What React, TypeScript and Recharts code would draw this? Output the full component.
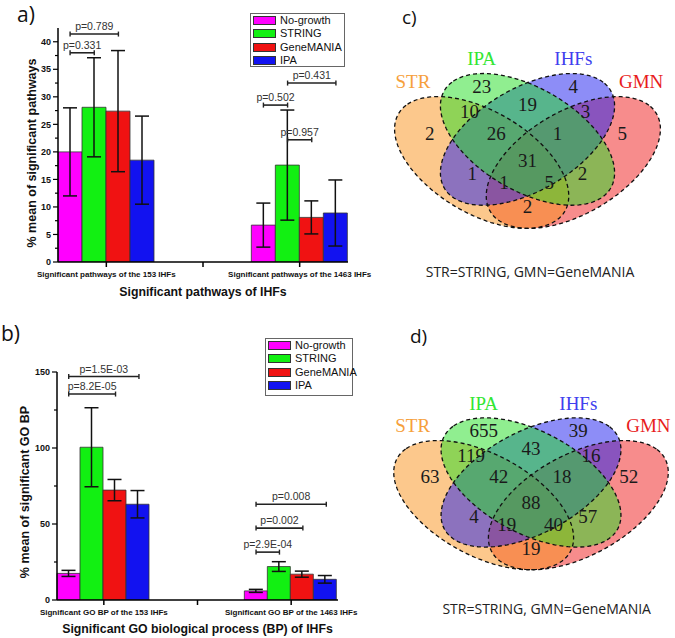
import React from 'react';
import {
  BarChart, Bar, XAxis, YAxis, ErrorBar, Legend, ReferenceLine,
  ScatterChart, Scatter,
} from 'recharts';

const SANS = '"Liberation Sans", Arial, sans-serif';
const SERIF = '"Liberation Serif", "Times New Roman", serif';
const LABEL_FONT = '"Open Sans", "Noto Sans", sans-serif';

const SERIES = ['No-growth', 'STRING', 'GeneMANIA', 'IPA'];
const SERIES_COLORS = ['#ff00ff', '#12f012', '#f01212', '#1212f0'];

// a) % mean of significant pathways (middle slot is an empty spacer category)
const CATS_A = ['Significant pathways of the 153 IHFs', ' ', 'Significant pathways of the 1463 IHFs'];
const NOGROWTH_A = [20.0, null, 6.7];
const STRING_A = [28.1, null, 17.6];
const GENEMANIA_A = [27.4, null, 8.1];
const IPA_A = [18.5, null, 8.9];
const NOGROWTH_ERR_A = [8, null, 4];
const STRING_ERR_A = [9, null, 10];
const GENEMANIA_ERR_A = [11, null, 3];
const IPA_ERR_A = [8, null, 6];
const Y_TICKS_A = [0, 2.5, 5, 7.5, 10, 12.5, 15, 17.5, 20, 22.5, 25, 27.5, 30, 32.5, 35, 37.5, 40];
const PVALS_A = [
  { cat: 0, from: 0, to: 2, y: 41.4, label: 'p=0.789' },
  { cat: 0, from: 0, to: 1, y: 38.0, label: 'p=0.331' },
  { cat: 2, from: 1, to: 3, y: 32.5, label: 'p=0.431' },
  { cat: 2, from: 0, to: 1, y: 28.5, label: 'p=0.502' },
  { cat: 2, from: 1, to: 2, y: 22.2, label: 'p=0.957' },
];

// b) % mean of significant GO BP
const CATS_B = ['Significant GO BP of the 153 IHFs', ' ', 'Significant GO BP of the 1463 IHFs'];
const NOGROWTH_B = [17.5, null, 6.0];
const STRING_B = [100.5, null, 22.0];
const GENEMANIA_B = [72.3, null, 17.0];
const IPA_B = [63.0, null, 13.6];
const NOGROWTH_ERR_B = [2, null, 1];
const STRING_ERR_B = [26, null, 3.2];
const GENEMANIA_ERR_B = [7, null, 2];
const IPA_ERR_B = [9, null, 2.5];
const Y_TICKS_B = [0, 25, 50, 75, 100, 125, 150];
const PVALS_B = [
  { cat: 0, from: 0, to: 3, y: 147, label: 'p=1.5E-03' },
  { cat: 0, from: 0, to: 2, y: 135.5, label: 'p=8.2E-05' },
  { cat: 2, from: 0, to: 3, y: 63, label: 'p=0.008' },
  { cat: 2, from: 0, to: 2, y: 47.3, label: 'p=0.002' },
  { cat: 2, from: 0, to: 1, y: 31.5, label: 'p=2.9E-04' },
];

// c), d) Venn region counts
const VENN_SETS = ['STR', 'IPA', 'IHFs', 'GMN'];
const VENN_SET_COLORS = ['#f99119', '#22dd22', '#1c1cf0', '#f01a1a'];
const VENN_TEXT_COLORS = ['#f6a03c', '#33e633', '#4040ee', '#e81c1c'];
const VENN_REGIONS = [
  'STR', 'IPA', 'IHFs', 'GMN', 'STR&IPA', 'IPA&IHFs', 'IHFs&GMN', 'STR&IPA&IHFs',
  'IPA&IHFs&GMN', 'ALL', 'STR&IHFs', 'IPA&GMN', 'STR&IHFs&GMN', 'STR&IPA&GMN', 'STR&GMN',
];
const COUNTS_C = [2, 23, 4, 5, 10, 19, 3, 26, 1, 31, 1, 2, 1, 5, 2];
const COUNTS_D = [63, 655, 39, 52, 119, 43, 16, 42, 18, 88, 4, 57, 19, 40, 19];

// venn geometry (unit square, y up)
const ELL_A = 0.35;
const ELL_B = 0.2;
const ELLIPSES: Record<string, { x: number; y: number; rot: number }> = {
  STR: { x: 0.35, y: 0.47, rot: 135 },
  IPA: { x: 0.5, y: 0.57, rot: 135 },
  IHFs: { x: 0.5, y: 0.57, rot: 45 },
  GMN: { x: 0.65, y: 0.47, rot: 45 },
};
const DRAW_ORDER = ['GMN', 'STR', 'IHFs', 'IPA'];
const REGION_POS: Record<string, [number, number]> = {
  STR: [0.18, 0.597], IPA: [0.35, 0.8], IHFs: [0.65, 0.8], GMN: [0.81, 0.597],
  'STR&IPA': [0.31, 0.69], 'IPA&IHFs': [0.5, 0.72], 'IHFs&GMN': [0.69, 0.69],
  'STR&IPA&IHFs': [0.398, 0.596], 'IPA&IHFs&GMN': [0.598, 0.596], ALL: [0.5, 0.48],
  'STR&IHFs': [0.319, 0.422], 'IPA&GMN': [0.68, 0.422],
  'STR&IHFs&GMN': [0.423, 0.383], 'STR&IPA&GMN': [0.571, 0.383], 'STR&GMN': [0.5, 0.278],
};
const SET_LABEL_POS: Record<string, [number, number]> = {
  STR: [0.125, 0.82], IPA: [0.35, 0.92], IHFs: [0.65, 0.92], GMN: [0.872, 0.82],
};
const VX: [number, number] = [0.05, 0.95];
const VY: [number, number] = [0.1, 1.0];

const Y_AXIS_W = 30;

const catTick = (props: any) => {
  const { x, y, payload } = props;
  const v = String(payload.value).trim();
  if (!v) return <g />;
  return (
    <text x={x} y={y + 7.5} textAnchor="middle" fontSize={8} fontWeight="bold" fontFamily={SANS} fill="#111">
      {v}
    </text>
  );
};

const yTick = (major: number) => (props: any) => {
  const { x, y, payload } = props;
  const isMajor = payload.value % major === 0;
  return (
    <g>
      <line x1={x - (isMajor ? 5 : 3)} x2={x} y1={y} y2={y} stroke="#000" strokeWidth={1.2} />
      {isMajor && (
        <text x={x - 7} y={y} dy="0.35em" textAnchor="end" fontSize={9} fontWeight="bold" fontFamily={SANS} fill="#111">
          {payload.value}
        </text>
      )}
    </g>
  );
};

// bracket between two bars of one category; x1 arrives at the band centre
const bracketShape = (label: string, off1: number, off2: number) => (props: any) => {
  const { x1: xc, y1 } = props;
  const x1 = xc + off1;
  const x2 = xc + off2;
  return (
    <g>
      <line x1={x1} x2={x2} y1={y1} y2={y1} stroke="#222" strokeWidth={1.6} />
      <line x1={x1} x2={x1} y1={y1 - 2.5} y2={y1 + 2.5} stroke="#222" strokeWidth={1.4} />
      <line x1={x2} x2={x2} y1={y1 - 2.5} y2={y1 + 2.5} stroke="#222" strokeWidth={1.4} />
      <text x={(x1 + x2) / 2} y={y1 - 4} textAnchor="middle" fontSize={10.5} fontFamily={SANS} fill="#333">
        {label}
      </text>
    </g>
  );
};

const legendContent = (w: number, h: number) => (props: any) => {
  const items = [...(props.payload || [])].sort(
    (a: any, b: any) => SERIES.indexOf(a.value) - SERIES.indexOf(b.value),
  );
  return (
    <div
      style={{
        width: w, height: h, border: '1px solid #666', background: '#fff',
        boxSizing: 'border-box', padding: '0 0 0 2px',
      }}
    >
      {items.map((item: any) => (
        <div
          key={item.value}
          style={{
            display: 'flex', alignItems: 'center', height: 13.3,
            fontSize: 11, fontFamily: SANS, color: '#111', lineHeight: 1,
          }}
        >
          <span
            style={{
              width: 23, height: 9, background: item.color, border: '1px solid #333',
              boxSizing: 'border-box', marginRight: 4, flexShrink: 0,
            }}
          />
          {item.value}
        </div>
      ))}
    </div>
  );
};

type Bracket = { cat: number; from: number; to: number; y: number; label: string };

function BarPanel(props: {
  cats: string[]; means: (number | null)[][]; errs: (number | null)[][];
  yMax: number; yTicks: number[]; major: number; brackets: Bracket[];
  width: number; height: number; margin: any; legend: { left: number; top: number; w: number; h: number };
}) {
  const { cats, means, errs, yMax, yTicks, major, brackets, width, height, margin, legend } = props;
  const rows = cats.map((cat, i) => {
    const row: Record<string, any> = { cat };
    means.forEach((m, s) => {
      row[`m${s}`] = m[i];
      row[`e${s}`] = errs[s][i];
    });
    return row;
  });
  // offset of a bar centre from its band centre (bars fill the band, no gaps)
  const band = (width - margin.left - margin.right - Y_AXIS_W) / cats.length;
  const barOffset = (s: number) => ((s + 0.5) / SERIES.length - 0.5) * band;
  return (
    <BarChart width={width} height={height} data={rows} margin={margin} barCategoryGap={0} barGap={0}>
      <XAxis
        dataKey="cat" height={38} interval={0}
        axisLine={{ stroke: '#000', strokeWidth: 1.5 }}
        tickLine={{ stroke: '#000', strokeWidth: 1.5 }}
        tickSize={5} tickMargin={2} tick={catTick}
      />
      <YAxis
        width={Y_AXIS_W} domain={[0, yMax]} ticks={yTicks} interval={0} allowDataOverflow
        axisLine={{ stroke: '#000', strokeWidth: 1.5 }} tickLine={false}
        tickSize={0} tickMargin={0} tick={yTick(major)}
      />
      <Legend
        layout="horizontal" verticalAlign="middle" align="center"
        wrapperStyle={{ left: legend.left, top: legend.top, width: legend.w }}
        content={legendContent(legend.w, legend.h)}
      />
      {SERIES.map((name, s) => (
        <Bar
          key={name} dataKey={`m${s}`} name={name} fill={SERIES_COLORS[s]}
          stroke="#333" strokeWidth={0.8} isAnimationActive={false}
        >
          <ErrorBar dataKey={`e${s}`} width={7} stroke="#111" strokeWidth={1.5} direction="y" />
        </Bar>
      ))}
      {brackets.map((b) => (
        <ReferenceLine
          key={b.label} ifOverflow="visible"
          segment={[{ x: cats[b.cat], y: b.y }, { x: cats[b.cat], y: b.y }]}
          shape={bracketShape(b.label, barOffset(b.from), barOffset(b.to))}
        />
      ))}
    </BarChart>
  );
}

function VennPanel({ counts, width, height }: { counts: number[]; width: number; height: number }) {
  const sx = width / (VX[1] - VX[0]);
  const sy = height / (VY[1] - VY[0]);
  const ellipses = DRAW_ORDER.map((k) => ({
    ...ELLIPSES[k], name: k, color: VENN_SET_COLORS[VENN_SETS.indexOf(k)],
  }));
  const regions = VENN_REGIONS.map((r, i) => ({ x: REGION_POS[r][0], y: REGION_POS[r][1], count: counts[i] }));
  const setLabels = VENN_SETS.map((s, i) => ({
    x: SET_LABEL_POS[s][0], y: SET_LABEL_POS[s][1], name: s, color: VENN_TEXT_COLORS[i],
  }));

  const ellipsePath = (cx: number, cy: number, rotDeg: number) => {
    const r = (rotDeg * Math.PI) / 180;
    const pts: string[] = [];
    for (let k = 0; k <= 120; k++) {
      const t = (k / 120) * 2 * Math.PI;
      const ux = ELL_A * Math.cos(t) * Math.cos(r) - ELL_B * Math.sin(t) * Math.sin(r);
      const uy = ELL_A * Math.cos(t) * Math.sin(r) + ELL_B * Math.sin(t) * Math.cos(r);
      pts.push(`${(cx + ux * sx).toFixed(2)},${(cy - uy * sy).toFixed(2)}`);
    }
    return `M${pts.join('L')}Z`;
  };
  const fillShape = (p: any) => (
    <path d={ellipsePath(p.cx, p.cy, p.payload.rot)} fill={p.payload.color} fillOpacity={0.5} stroke="none" />
  );
  const outlineShape = (p: any) => (
    <path d={ellipsePath(p.cx, p.cy, p.payload.rot)} fill="none" stroke="#111" strokeWidth={1.3} strokeDasharray="4 3" />
  );
  const countShape = (p: any) => (
    <text x={p.cx} y={p.cy} textAnchor="middle" dominantBaseline="central" fontSize={19} fontFamily={SERIF} fill="#1a1a1a">
      {p.payload.count}
    </text>
  );
  const setShape = (p: any) => (
    <text x={p.cx} y={p.cy} textAnchor="middle" dominantBaseline="central" fontSize={19} fontFamily={SERIF} fill={p.payload.color}>
      {p.payload.name}
    </text>
  );

  return (
    <ScatterChart width={width} height={height} margin={{ top: 0, right: 0, bottom: 0, left: 0 }}>
      <XAxis type="number" dataKey="x" domain={VX} allowDataOverflow hide height={0} />
      <YAxis type="number" dataKey="y" domain={VY} allowDataOverflow hide width={0} />
      <Scatter data={ellipses} shape={fillShape} isAnimationActive={false} />
      <Scatter data={ellipses} shape={outlineShape} isAnimationActive={false} />
      <Scatter data={regions} shape={countShape} isAnimationActive={false} />
      <Scatter data={setLabels} shape={setShape} isAnimationActive={false} />
    </ScatterChart>
  );
}

export default function App() {
  const abs = (left: number, top: number): React.CSSProperties => ({ position: 'absolute', left, top });
  return (
    <div style={{ position: 'relative', width: 675, height: 638, background: '#fff', overflow: 'hidden' }}>
      <style>{'body{margin:0} .recharts-surface{overflow:visible}'}</style>

      <div style={abs(0, 0)}>
        <BarPanel
          cats={CATS_A}
          means={[NOGROWTH_A, STRING_A, GENEMANIA_A, IPA_A]}
          errs={[NOGROWTH_ERR_A, STRING_ERR_A, GENEMANIA_ERR_A, IPA_ERR_A]}
          yMax={42.5} yTicks={Y_TICKS_A} major={5} brackets={PVALS_A}
          width={360} height={300} margin={{ top: 28, right: 12, left: 28, bottom: 0 }}
          legend={{ left: 250, top: 13, w: 95, h: 54 }}
        />
      </div>

      <div style={abs(0, 330)}>
        <BarPanel
          cats={CATS_B}
          means={[NOGROWTH_B, STRING_B, GENEMANIA_B, IPA_B]}
          errs={[NOGROWTH_ERR_B, STRING_ERR_B, GENEMANIA_ERR_B, IPA_ERR_B]}
          yMax={150} yTicks={Y_TICKS_B} major={50} brackets={PVALS_B}
          width={360} height={308} margin={{ top: 42, right: 22, left: 27, bottom: 0 }}
          legend={{ left: 265, top: 8, w: 88, h: 58 }}
        />
      </div>

      <div style={abs(390, 40)}>
        <VennPanel counts={COUNTS_C} width={275} height={208} />
      </div>
      <div style={abs(389, 385)}>
        <VennPanel counts={COUNTS_D} width={284} height={204} />
      </div>

      <svg width={675} height={638} style={{ position: 'absolute', left: 0, top: 0, pointerEvents: 'none' }}>
        <text x={17} y={22} fontSize={21} fontFamily={LABEL_FONT} fill="#111">a)</text>
        <text x={1} y={341} fontSize={21} fontFamily={LABEL_FONT} fill="#111">b)</text>
        <text x={402} y={24} fontSize={19} fontFamily={LABEL_FONT} fill="#111">c)</text>
        <text x={410} y={343} fontSize={19} fontFamily={LABEL_FONT} fill="#111">d)</text>

        <text x={203} y={296} textAnchor="middle" fontSize={12.3} fontWeight="bold" fontFamily={SANS} fill="#111">
          Significant pathways of IHFs
        </text>
        <text
          x={32} y={153} textAnchor="middle" dominantBaseline="central" transform="rotate(-90 32 153)"
          fontSize={12.5} fontWeight="bold" fontFamily={SANS} fill="#111"
        >
          % mean of significant pathways
        </text>
        <text x={197.5} y={633} textAnchor="middle" fontSize={12.3} fontWeight="bold" fontFamily={SANS} fill="#111">
          Significant GO biological process (BP) of IHFs
        </text>
        <text
          x={25} y={492} textAnchor="middle" dominantBaseline="central" transform="rotate(-90 25 492)"
          fontSize={12.5} fontWeight="bold" fontFamily={SANS} fill="#111"
        >
          % mean of significant GO BP
        </text>

        <text x={530} y={271} textAnchor="middle" dominantBaseline="central" fontSize={14} fontFamily={LABEL_FONT} fill="#222">
          STR=STRING, GMN=GeneMANIA
        </text>
        <text x={546.7} y={608} textAnchor="middle" dominantBaseline="central" fontSize={14} fontFamily={LABEL_FONT} fill="#222">
          STR=STRING, GMN=GeneMANIA
        </text>
      </svg>
    </div>
  );
}
